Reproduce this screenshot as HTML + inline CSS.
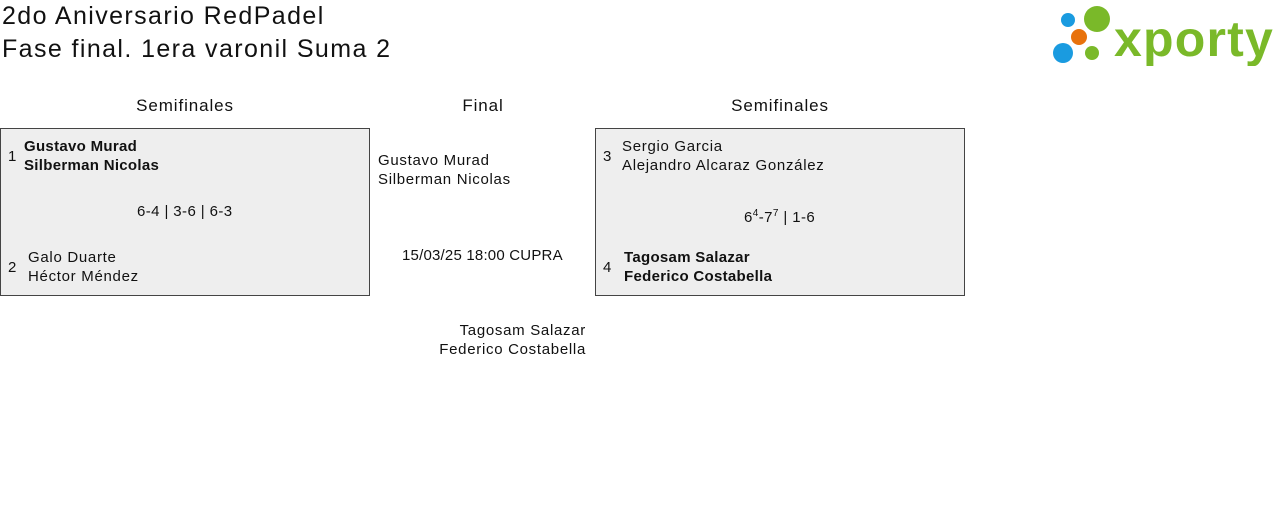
<!DOCTYPE html>
<html><head><meta charset="utf-8"><style>
body{margin:0;width:1280px;height:514px;background:#fff;font-family:"Liberation Sans",sans-serif;color:#111;position:relative;overflow:hidden}
.a{position:absolute;white-space:nowrap}
.t{font-size:25px;left:2px;letter-spacing:1.4px}
.h{font-size:17px;top:96px;text-align:center;letter-spacing:0.9px}
.box{position:absolute;top:128px;width:368px;height:166px;background:#eeeeee;border:1px solid #444}
.n{font-size:15px;line-height:19px;letter-spacing:0.7px}
.b{font-weight:bold;letter-spacing:0.3px}
</style></head><body>
<div class="a t" style="top:2px">2do Aniversario RedPadel</div>
<div class="a t" style="top:35px">Fase final. 1era varonil Suma 2</div>
<svg class="a" style="left:1050px;top:4px" width="230" height="62">
<circle cx="18" cy="16" r="7" fill="#1a9be0"/>
<circle cx="47" cy="15" r="13" fill="#7ab929"/>
<circle cx="29" cy="33" r="8" fill="#e8720c"/>
<circle cx="13" cy="49" r="10" fill="#1a9be0"/>
<circle cx="42" cy="49" r="7" fill="#7ab929"/>
<text x="64" y="52" font-family="Liberation Sans" font-weight="bold" font-size="50" fill="#7ab929" letter-spacing="1.2">xporty</text>
</svg>
<div class="a h" style="left:85px;width:200px">Semifinales</div>
<div class="a h" style="left:383px;width:200px">Final</div>
<div class="a h" style="left:680px;width:200px">Semifinales</div>
<div class="box" style="left:0"></div>
<div class="box" style="left:595px"></div>
<div class="a n" style="left:8px;top:147px">1</div>
<div class="a n b" style="left:24px;top:137px">Gustavo Murad<br>Silberman Nicolas</div>
<div class="a n" style="left:137px;top:202px;letter-spacing:0.4px">6-4 | 3-6 | 6-3</div>
<div class="a n" style="left:8px;top:258px">2</div>
<div class="a n" style="left:28px;top:248px">Galo Duarte<br>Héctor Méndez</div>
<div class="a n" style="left:378px;top:151px">Gustavo Murad<br>Silberman Nicolas</div>
<div class="a n" style="left:402px;top:246px;letter-spacing:0.2px">15/03/25 18:00 CUPRA</div>
<div class="a n" style="left:386px;top:321px;text-align:right;width:200px">Tagosam Salazar<br>Federico Costabella</div>
<div class="a n" style="left:603px;top:147px">3</div>
<div class="a n" style="left:622px;top:137px">Sergio Garcia<br>Alejandro Alcaraz González</div>
<div class="a n" style="left:744px;top:204px;letter-spacing:0.4px">6<sup style="font-size:10px">4</sup>-7<sup style="font-size:10px">7</sup> | 1-6</div>
<div class="a n" style="left:603px;top:258px">4</div>
<div class="a n b" style="left:624px;top:248px">Tagosam Salazar<br>Federico Costabella</div>
</body></html>
